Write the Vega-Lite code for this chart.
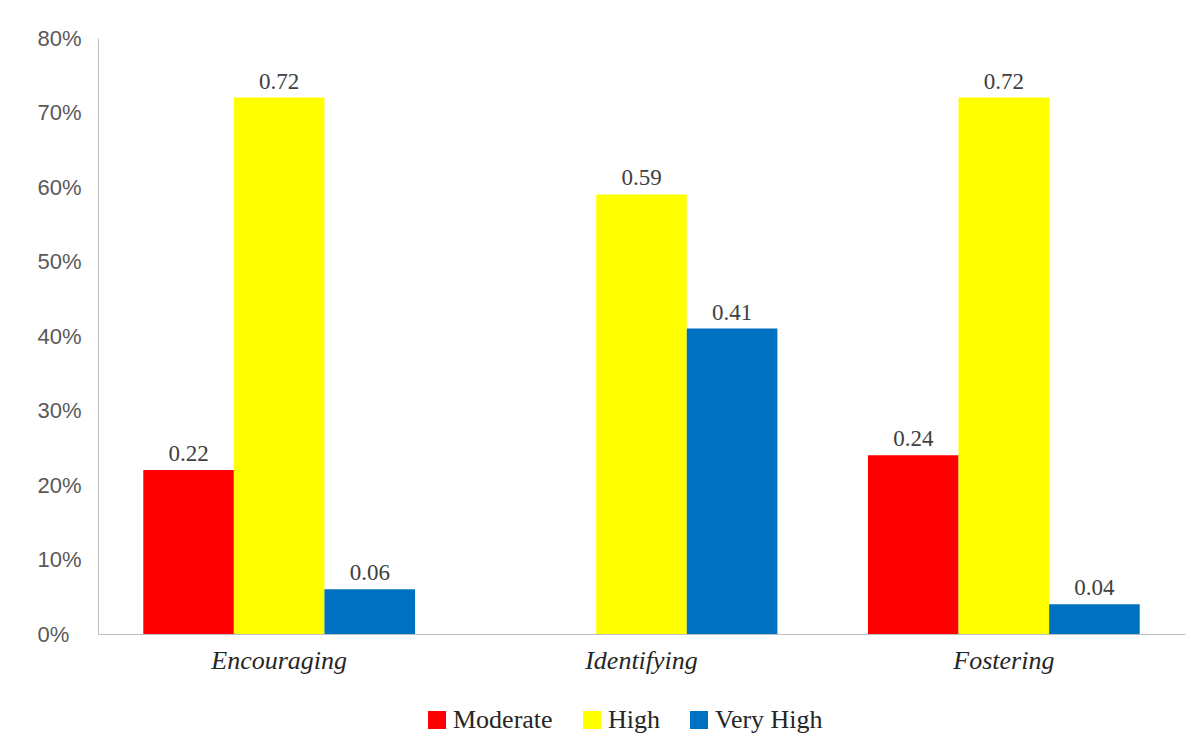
{
  "$schema": "https://vega.github.io/schema/vega-lite/v6.json",
  "width": 1087,
  "height": 596,
  "autosize": {"type": "none"},
  "padding": {"left": 98, "top": 38, "right": 13, "bottom": 119},
  "background": "white",
  "config": {"view": {"stroke": null}},
  "data": {
    "values": [
      {"category": "Encouraging", "level": "Moderate", "value": 0.22},
      {"category": "Encouraging", "level": "High", "value": 0.72},
      {"category": "Encouraging", "level": "Very High", "value": 0.06},
      {"category": "Identifying", "level": "High", "value": 0.59},
      {"category": "Identifying", "level": "Very High", "value": 0.41},
      {"category": "Fostering", "level": "Moderate", "value": 0.24},
      {"category": "Fostering", "level": "High", "value": 0.72},
      {"category": "Fostering", "level": "Very High", "value": 0.04}
    ]
  },
  "encoding": {
    "x": {
      "field": "category",
      "type": "nominal",
      "sort": ["Encouraging", "Identifying", "Fostering"],
      "scale": {"paddingInner": 0.25, "paddingOuter": 0.125},
      "axis": {
        "title": null,
        "labelAngle": 0,
        "ticks": false,
        "tickSize": 0,
        "domainColor": "#BFBFBF",
        "labelFont": "Liberation Serif",
        "labelFontStyle": "italic",
        "labelFontSize": 26,
        "labelColor": "#262626",
        "labelPadding": 13
      }
    },
    "xOffset": {
      "field": "level",
      "type": "nominal",
      "scale": {"domain": ["Moderate", "High", "Very High"], "paddingInner": 0, "paddingOuter": 0}
    },
    "y": {
      "field": "value",
      "type": "quantitative",
      "scale": {"domain": [0, 0.8]},
      "axis": {
        "title": null,
        "format": ".0%",
        "values": [0, 0.1, 0.2, 0.3, 0.4, 0.5, 0.6, 0.7, 0.8],
        "grid": false,
        "ticks": false,
        "tickSize": 0,
        "domainColor": "#BFBFBF",
        "labelAlign": "left",
        "labelPadding": 61,
        "labelFont": "Liberation Sans",
        "labelFontSize": 22,
        "labelColor": "#595959"
      }
    }
  },
  "layer": [
    {
      "mark": {"type": "bar"},
      "encoding": {
        "color": {
          "field": "level",
          "type": "nominal",
          "scale": {"domain": ["Moderate", "High", "Very High"], "range": ["#FF0000", "#FFFF00", "#0070C0"]},
          "legend": {
            "title": null,
            "orient": "none",
            "direction": "horizontal",
            "legendX": 326,
            "legendY": 669,
            "symbolType": "square",
            "symbolSize": 324,
            "symbolStrokeWidth": 0,
            "symbolOpacity": 1,
            "labelFont": "Liberation Serif",
            "labelFontSize": 26,
            "labelColor": "#262626",
            "labelOffset": 3,
            "columnPadding": 26
          }
        }
      }
    },
    {
      "mark": {"type": "text", "baseline": "alphabetic", "dy": -9, "font": "Liberation Serif", "fontSize": 23, "color": "#404040"},
      "encoding": {
        "text": {"field": "value", "type": "quantitative", "format": ".2f"}
      }
    }
  ]
}
